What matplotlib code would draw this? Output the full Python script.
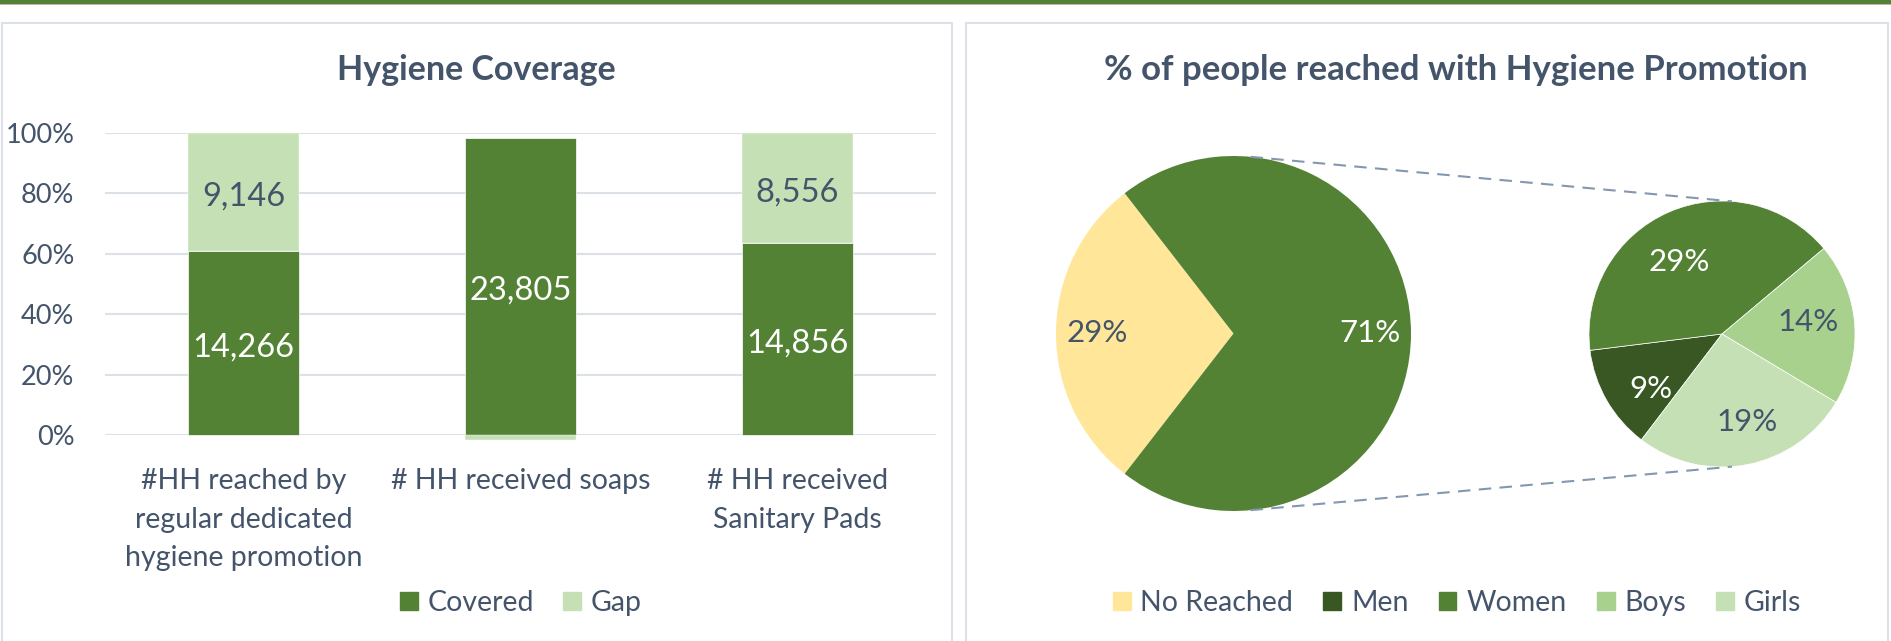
import numpy as np
import matplotlib
matplotlib.use("Agg")
import matplotlib.pyplot as plt
from matplotlib.patches import Rectangle, Patch

plt.rcParams['font.family'] = ['Lato', 'DejaVu Sans']

# ---- data ----
categories = ["#HH reached by\nregular dedicated\nhygiene promotion",
              "# HH received soaps",
              "# HH received\nSanitary Pads"]
covered = np.array([14266, 23805, 14856])
gap = np.array([9146, -393, 8556])

main_labels = ["No Reached", "Reached"]
main_vals = [29, 71]
sub_labels = ["Men", "Women", "Boys", "Girls"]
sub_vals = [9, 29, 14, 19]

# ---- style ----
TXT = '#44546A'
DARK = '#548235'
LIGHT = '#C5E0B4'
main_colors = ['#FFE699', DARK]
sub_colors = ['#385723', DARK, '#A9D18E', LIGHT]
sub_txt = ['white', 'white', TXT, TXT]

W, H = 1891, 641
fig = plt.figure(figsize=(W / 100, H / 100), dpi=100)


def box(x0, y0, x1, y1):
    # pixel box (top-left origin) -> figure fraction
    return [x0 / W, 1 - y1 / H, (x1 - x0) / W, (y1 - y0) / H]


# canvas in pixel units, y up
cv = fig.add_axes([0, 0, 1, 1], facecolor='none')
cv.add_patch(Rectangle((0, H - 3.5), W, 3.5, color=DARK, lw=0))
cv.add_patch(Rectangle((0, H - 5), W, 1.5, color='#B8B8B8', lw=0))
cv.add_patch(Rectangle((1.5, -10), 950, H - 23 + 10, fill=False, ec='#DCE1E8', lw=1.5))
cv.add_patch(Rectangle((966, -10), 922, H - 23 + 10, fill=False, ec='#DCE1E8', lw=1.5))

# ---- stacked 100% bars ----
ax = fig.add_axes(box(105, 133, 936, 435))
tot = covered + np.abs(gap)
cov_p = covered / tot
gap_p = gap / tot
x = np.arange(len(categories))
b1 = ax.bar(x, cov_p, width=0.4, color=DARK, edgecolor='white', lw=0.5, zorder=3, clip_on=False)
b2 = ax.bar(x, gap_p, width=0.4, bottom=np.where(gap > 0, cov_p, 0), color=LIGHT,
            edgecolor='white', lw=0.3, zorder=3, clip_on=False)
ax.bar_label(b1, labels=[f'{v:,}' for v in covered], label_type='center', color='white',
             fontsize=23.5, padding=-3)
ax.bar_label(b2, labels=[f'{v:,}' if v > 0 else '' for v in gap], label_type='center', color=TXT,
             fontsize=23.5, padding=-3)
ax.set_xlim(-0.5, 2.5)
ax.set_ylim(0, 1)
ax.set_yticks(np.arange(0, 1.01, 0.2))
ax.set_yticklabels([f'{int(round(v * 100))}%' for v in np.arange(0, 1.01, 0.2)], color=TXT, fontsize=19.5)
ax.set_xticks(x)
ax.set_xticklabels(categories, color=TXT, fontsize=20.5, linespacing=1.58)
ax.tick_params(length=0)
ax.tick_params(axis='y', pad=22)
ax.tick_params(axis='x', pad=24)
ax.yaxis.grid(True, color='#DCE1E8', lw=1.5, zorder=0)
ax.set_axisbelow(True)
for s in ax.spines.values():
    s.set_visible(False)

fig.text(476 / W, 1 - 70 / H, "Hygiene Coverage", ha='center', va='center',
         fontsize=24.5, fontweight='bold', color=TXT)
fig.legend(handles=[Patch(color=DARK, label='Covered'), Patch(color=LIGHT, label='Gap')],
           loc='center', bbox_to_anchor=(521 / W, 1 - 603 / H), ncol=2, frameon=False,
           fontsize=20.5, labelcolor=TXT, handlelength=0.63, handleheight=0.63,
           handletextpad=0.35, columnspacing=1.0)

# ---- pie of pie ----
c1, r1 = (1233.5, H - 333.5), 177.5
c2, r2 = (1722, H - 334), 133
w1, _ = cv.pie(main_vals, colors=main_colors, center=c1, radius=r1, frame=True,
               startangle=180 - main_vals[0] * 3.6 / 2, counterclock=True)
w2, _ = cv.pie(sub_vals, colors=sub_colors, center=c2, radius=r2, frame=True,
               startangle=232.7, counterclock=False,
               wedgeprops=dict(edgecolor='white', lw=0.5))
cv.set_xlim(0, W)
cv.set_ylim(0, H)
cv.axis('off')

for w, v, col in zip(w1, main_vals, [TXT, 'white']):
    a = np.deg2rad((w.theta1 + w.theta2) / 2)
    cv.text(c1[0] + 0.77 * r1 * np.cos(a), c1[1] + 0.77 * r1 * np.sin(a), f'{v}%',
            ha='center', va='center', fontsize=22.5, color=col)
for w, v, col in zip(w2, sub_vals, sub_txt):
    a = np.deg2rad((w.theta1 + w.theta2) / 2 + 6)
    cv.text(c2[0] + 0.66 * r2 * np.cos(a), c2[1] + 0.66 * r2 * np.sin(a) - 4, f'{v}%',
            ha='center', va='center', fontsize=22.5, color=col)

# connector lines
for s in (1, -1):
    a1, a2 = np.deg2rad(s * 84.5), np.deg2rad(s * 85.7)
    cv.plot([c1[0] + r1 * np.cos(a1), c2[0] + r2 * np.cos(a2)],
            [c1[1] + r1 * np.sin(a1), c2[1] + r2 * np.sin(a2)],
            ls=(0, (6, 4)), color='#8497B0', lw=1.5)

fig.text(1456 / W, 1 - 70 / H, "% of people reached with Hygiene Promotion", ha='center',
         va='center', fontsize=25, fontweight='bold', color=TXT)
leg_handles = [Patch(color=main_colors[0], label=main_labels[0])] + \
              [Patch(color=c, label=l) for c, l in zip(sub_colors, sub_labels)]
fig.legend(handles=leg_handles, loc='center', bbox_to_anchor=(1457 / W, 1 - 603 / H), ncol=5,
           frameon=False, fontsize=20.5, labelcolor=TXT, handlelength=0.63, handleheight=0.63,
           handletextpad=0.35, columnspacing=1.05)

fig.savefig("out.png", dpi=100)
